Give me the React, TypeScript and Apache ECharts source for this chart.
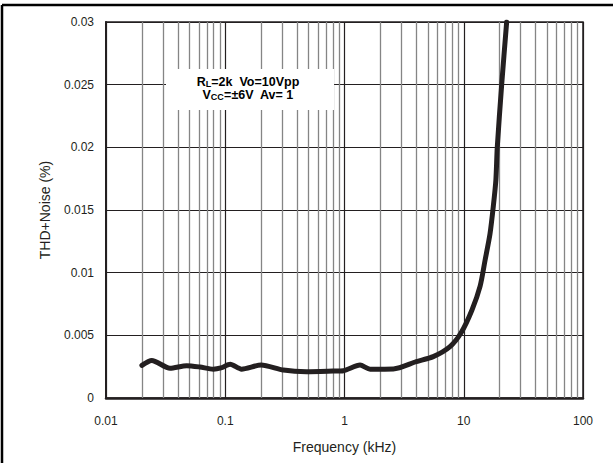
import React, { useEffect, useRef } from "react";
import * as echarts from "echarts";

// Frequency (kHz) and THD+Noise (%)
const freqKHz = [0.02, 0.0242, 0.0344, 0.0475, 0.0614, 0.0794, 0.092, 0.11, 0.137, 0.2, 0.307, 0.48, 0.8, 0.98, 1.35, 1.64, 2.57, 4.0, 5.55, 7.67, 9.5, 11.7, 13.7, 15.1, 16.6, 17.7, 18.6, 19.1, 20.8, 22.9];
const thdNoise = [0.0026, 0.003, 0.00237, 0.00258, 0.00247, 0.0023, 0.0024, 0.00269, 0.0023, 0.00263, 0.00223, 0.0021, 0.00215, 0.00218, 0.00263, 0.0023, 0.00232, 0.0029, 0.0033, 0.0041, 0.0052, 0.007, 0.0089, 0.011, 0.0131, 0.0153, 0.0174, 0.02, 0.025, 0.03];

const xTickLabels = ["0.01", "0.1", "1", "10", "100"];
const yTickLabels = ["0", "0.005", "0.01", "0.015", "0.02", "0.025", "0.03"];

const decades = [0.01, 0.1, 1, 10];
const minorMultiples = [2, 3, 4, 5, 6, 7, 8, 9];

const INK = "#231f20";
const FONT = "'Liberation Sans', Arial, Helvetica, sans-serif";

export default function App() {
  const ref = useRef<HTMLDivElement>(null);

  useEffect(() => {
    if (!ref.current) return;
    const chart = echarts.init(ref.current, undefined, { renderer: "svg" });

    const minorLines: any[] = [];
    decades.forEach((d) => minorMultiples.forEach((m) => minorLines.push({ xAxis: parseFloat((d * m).toPrecision(3)) })));

    const data = freqKHz.map((f, i) => [f, thdNoise[i]]);

    const rich = {
      m: { fontSize: 12.5, fontWeight: "bold", fontFamily: FONT, fill: "#000", lineHeight: 12, verticalAlign: "top" },
      s: { fontSize: 9, fontWeight: "bold", fontFamily: FONT, fill: "#000", lineHeight: 9, verticalAlign: "top", padding: [4, 0, 0, 0] },
    };

    chart.setOption({
      animation: false,
      backgroundColor: "#ffffff",
      textStyle: { fontFamily: FONT },
      grid: { left: 106, right: 32, top: 22, bottom: 65, show: true, borderColor: INK, borderWidth: 1.5 },
      xAxis: {
        type: "log",
        logBase: 10,
        min: 0.01,
        max: 100,
        name: "Frequency (kHz)",
        nameLocation: "middle",
        nameGap: 42,
        nameTextStyle: { color: INK, fontSize: 14, fontFamily: FONT },
        axisLine: { show: true, lineStyle: { color: INK, width: 2.5 } },
        axisTick: { show: false },
        axisLabel: {
          color: INK,
          fontSize: 12,
          fontFamily: FONT,
          margin: 17,
          formatter: (_v: number, i: number) => xTickLabels[i] ?? "",
        },
        splitLine: { show: true, lineStyle: { color: INK, width: 1.2 } },
        minorTick: { show: false },
        minorSplitLine: { show: false },
      },
      yAxis: {
        type: "value",
        min: 0,
        max: 0.03,
        interval: 0.005,
        name: "THD+Noise (%)",
        nameLocation: "middle",
        nameGap: 54,
        nameRotate: 90,
        nameTextStyle: { color: INK, fontSize: 14, fontFamily: FONT },
        axisLine: { show: true, lineStyle: { color: INK, width: 2 } },
        axisTick: { show: false },
        axisLabel: {
          color: INK,
          fontSize: 12,
          fontFamily: FONT,
          margin: 12,
          formatter: (_v: number, i: number) => yTickLabels[i] ?? "",
        },
        splitLine: { show: true, lineStyle: { color: INK, width: 1.2 } },
      },
      series: [
        {
          type: "line",
          data,
          smooth: 0.25,
          symbol: "none",
          clip: true,
          z: 5,
          lineStyle: { color: INK, width: 5, cap: "round", join: "round" },
          markLine: {
            silent: true,
            symbol: "none",
            label: { show: false },
            z: 1,
            lineStyle: { color: "#858585", width: 1.3, type: "solid" },
            emphasis: { disabled: true },
            data: minorLines,
          },
        },
      ],
      graphic: [
        { type: "line", z: 100, shape: { x1: 2, y1: 5, x2: 613, y2: 5 }, style: { stroke: "#000", lineWidth: 2.5 } },
        { type: "line", z: 100, shape: { x1: 2, y1: 5, x2: 2, y2: 463 }, style: { stroke: "#000", lineWidth: 2.5 } },
        { type: "rect", z: 100, shape: { x: 166, y: 69, width: 168, height: 41 }, style: { fill: "#ffffff" } },
        {
          type: "text",
          z: 101,
          x: 248,
          y: 75,
          style: { text: "{m|R}{s|L}{m|=2k  Vo=10Vpp}", align: "center", verticalAlign: "top", fill: "#000", rich },
        },
        {
          type: "text",
          z: 101,
          x: 248,
          y: 88,
          style: { text: "{m|V}{s|CC}{m|=±6V  Av= 1}", align: "center", verticalAlign: "top", fill: "#000", rich },
        },
      ],
    });

    return () => chart.dispose();
  }, []);

  return <div ref={ref} style={{ position: "absolute", left: 0, top: 0, width: 615, height: 463 }} />;
}
